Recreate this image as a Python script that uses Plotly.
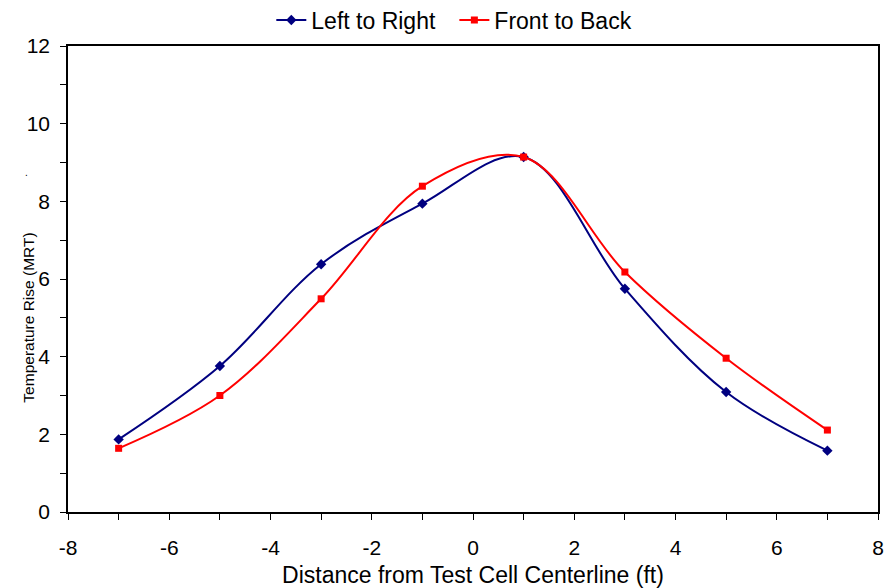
import plotly.graph_objects as go

x_vals = [-7, -5, -3, -1, 1, 3, 5, 7]
left_to_right = [1.87, 3.76, 6.38, 7.94, 9.14, 5.75, 3.09, 1.58]
front_to_back = [1.64, 3.00, 5.49, 8.39, 9.14, 6.18, 3.96, 2.11]

x_tick_vals = [-8, -6, -4, -2, 0, 2, 4, 6, 8]
x_tick_text = ["-8", "-6", "-4", "-2", "0", "2", "4", "6", "8"]
y_tick_vals = [0, 2, 4, 6, 8, 10, 12]
y_tick_text = ["0", "2", "4", "6", "8", "10", "12"]

FONT = "Liberation Sans, Arial, sans-serif"

fig = go.Figure()
fig.add_trace(go.Scatter(
    x=x_vals, y=left_to_right, name="Left to Right", mode="lines+markers",
    line=dict(color="#000080", width=2, shape="spline", smoothing=1),
    marker=dict(symbol="diamond", size=8, color="#000080"), legend="legend"))
fig.add_trace(go.Scatter(
    x=x_vals, y=front_to_back, name="Front to Back", mode="lines+markers",
    line=dict(color="#FF0000", width=2, shape="spline", smoothing=1),
    marker=dict(symbol="square", size=7, color="#FF0000"), legend="legend2"))

axis_common = dict(
    showgrid=False, zeroline=False, showline=True, linecolor="black", linewidth=1.5,
    mirror=True, ticks="outside", ticklen=6, tickcolor="black", tickwidth=1,
    tickfont=dict(size=21, color="black", family=FONT), automargin=False,
)
fig.update_xaxes(range=[-8, 8], tickvals=x_tick_vals, ticktext=x_tick_text,
                 minor=dict(dtick=1, tick0=-8, ticks="outside", ticklen=6, tickcolor="black"),
                 ticklabelstandoff=10,
                 title=dict(text="Distance from Test Cell Centerline (ft)",
                            font=dict(size=23, color="black", family=FONT), standoff=14),
                 **axis_common)
fig.update_yaxes(range=[0, 12], tickvals=y_tick_vals, ticktext=y_tick_text,
                 minor=dict(dtick=1, tick0=0, ticks="outside", ticklen=6, tickcolor="black"),
                 ticklabelstandoff=6,
                 **axis_common)

fig.add_annotation(text="Temperature Rise (MRT)", textangle=-90, xref="paper", yref="paper",
                   x=0, y=0.416, xshift=-50, showarrow=False,
                   font=dict(size=15.5, color="black", family=FONT))
fig.add_annotation(text=".", xref="paper", yref="paper", x=0, y=0.745, xshift=-45,
                   showarrow=False, font=dict(size=10, color="black", family=FONT))

legend_common = dict(orientation="h", xanchor="left", y=1.0557, yanchor="middle",
                     font=dict(size=23, color="black", family=FONT), itemwidth=30,
                     bgcolor="rgba(0,0,0,0)")
fig.update_layout(
    width=887, height=580,
    margin=dict(l=60, r=17, t=38, b=76, autoexpand=False),
    plot_bgcolor="white", paper_bgcolor="white",
    font=dict(family=FONT, color="black"),
    legend=dict(x=0.251, **legend_common),
    legend2=dict(x=0.477, **legend_common),
    showlegend=True,
)
fig.write_html("out.html")
